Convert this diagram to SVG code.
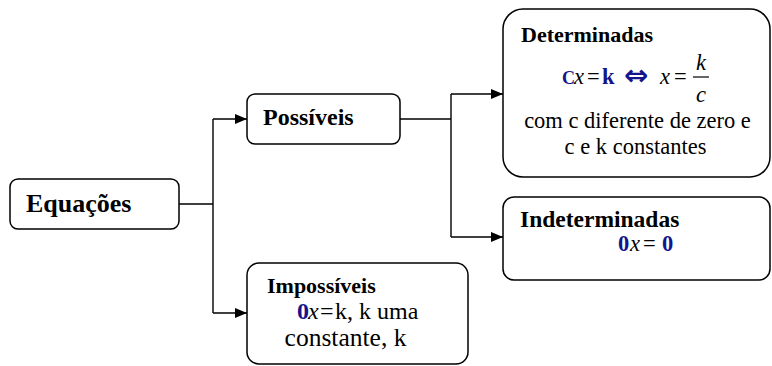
<svg xmlns="http://www.w3.org/2000/svg" width="772" height="366" viewBox="0 0 772 366">
<defs>
<marker id="arr" markerUnits="userSpaceOnUse" markerWidth="12" markerHeight="10" refX="12" refY="5" orient="auto">
<path d="M0,0 L12,5 L0,10 z" fill="#000"/>
</marker>
<style>
.box{fill:#fff;stroke:#000;stroke-width:1.5}
.con{fill:none;stroke:#000;stroke-width:1.4}
text{font-family:"Liberation Serif","Times New Roman",serif;fill:#000}
.b{font-weight:bold}
.i{font-style:italic}
.bl{fill:#14148c;font-weight:bold}
.t{font-size:22.5px}
</style>
</defs>
<rect width="772" height="366" fill="#fff"/>
<g id="connectors">
<path class="con" d="M179,204 H213 M213,119 V313 M400,119 H451 M451,94 V237"/>
<path class="con" d="M213,119 H247" marker-end="url(#arr)"/>
<path class="con" d="M213,313 H247" marker-end="url(#arr)"/>
<path class="con" d="M451,94 H503" marker-end="url(#arr)"/>
<path class="con" d="M451,237 H503" marker-end="url(#arr)"/>
</g>
<g id="equacoes">
<rect class="box" x="10" y="179" width="169" height="50" rx="8"/>
<text class="b" x="26" y="212" font-size="26" font-family="Liberation Serif, serif">Equações</text>
</g>
<g id="possiveis">
<rect class="box" x="247" y="94" width="153" height="50" rx="8"/>
<text class="b" x="263" y="125" font-size="24" font-family="Liberation Serif, serif">Possíveis</text>
</g>
<g id="impossiveis">
<rect class="box" x="247" y="263" width="221" height="101" rx="12"/>
<text class="b" x="267" y="293" font-size="22" font-family="Liberation Serif, serif">Impossíveis</text>
<text y="319" font-size="24" font-family="Liberation Serif, serif"><tspan class="bl" x="297">0</tspan><tspan class="i" x="308">x</tspan><tspan x="320">=</tspan><tspan x="335">k, k uma</tspan></text>
<text x="345.5" y="346" font-size="25.5" text-anchor="middle" font-family="Liberation Serif, serif">constante, k</text>
</g>
<g id="determinadas">
<rect class="box" x="503" y="9" width="267" height="168" rx="20"/>
<text class="b" x="521" y="42" font-size="22" font-family="Liberation Serif, serif">Determinadas</text>
<text class="t" y="84" font-family="Liberation Serif, serif"><tspan class="bl" x="562" font-size="18">C</tspan><tspan class="i" x="574">x</tspan><tspan x="587">=</tspan><tspan class="bl" x="602">k</tspan><tspan x="660" class="i">x</tspan><tspan x="674">=</tspan></text>
<text x="624" y="85" font-size="29" font-weight="bold" fill="#14148c" font-family="DejaVu Sans, sans-serif" style="fill:#14148c;font-family:'DejaVu Sans',sans-serif">⇔</text>
<line x1="693" y1="77" x2="709" y2="77" stroke="#000" stroke-width="1.2"/>
<text class="t i" x="701" y="70" text-anchor="middle" font-family="Liberation Serif, serif">k</text>
<text class="t i" x="701" y="102" text-anchor="middle" font-family="Liberation Serif, serif">c</text>
<text class="t" x="637.5" y="128" text-anchor="middle" font-family="Liberation Serif, serif">com c diferente de zero e</text>
<text class="t" x="635.5" y="154" text-anchor="middle" font-family="Liberation Serif, serif">c e k constantes</text>
</g>
<g id="indeterminadas">
<rect class="box" x="503" y="197" width="267" height="83" rx="11"/>
<text class="b" x="520" y="227" font-size="23.5" font-family="Liberation Serif, serif">Indeterminadas</text>
<text y="251" font-size="22.5" font-family="Liberation Serif, serif"><tspan class="bl" x="618">0</tspan><tspan class="i" x="630">x</tspan><tspan x="643">=</tspan><tspan class="bl" x="662">0</tspan></text>
</g>
</svg>
